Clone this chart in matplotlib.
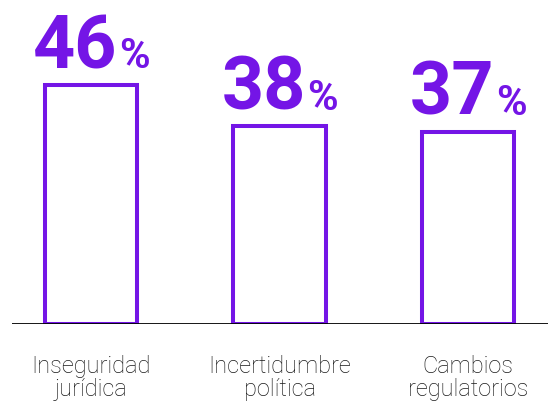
import matplotlib.pyplot as plt

categories = ['Inseguridad\njurídica', 'Incertidumbre\npolítica', 'Cambios\nregulatorios']
values = [46, 38, 37]

purple = '#7415E6'

fig = plt.figure(figsize=(5.48, 4.01), dpi=100)
ax = fig.add_axes([12 / 548, 77 / 401, 536 / 548, 324 / 401])

x = range(len(values))
ax.bar(x, values, width=0.49, facecolor='white', edgecolor=purple, linewidth=2.9, zorder=2)
ax.axhline(0, color='black', linewidth=2, zorder=3)

for xi, v in zip(x, values):
    num = ax.annotate(str(v), xy=(xi, v), xytext=(19, 12), textcoords='offset points',
                      ha='right', va='baseline', fontsize=53, fontweight='bold',
                      family='Roboto', color=purple)
    ax.annotate('%', xy=(1, v), xycoords=(num, 'data'), xytext=(1, 12),
                textcoords='offset points', ha='left', va='baseline', fontsize=30,
                fontweight='bold', family='Roboto', color=purple)
    ax.annotate(categories[xi], xy=(xi, 0), xytext=(0, -22), textcoords='offset points',
                ha='center', va='top', fontsize=17, fontweight='light',
                family='Roboto', color='#1a1a1a', linespacing=1.02)

ax.set_xlim(-0.419, 2.424)
ax.set_ylim(0, 62.3)
ax.axis('off')

fig.savefig('out.png', dpi=100)
